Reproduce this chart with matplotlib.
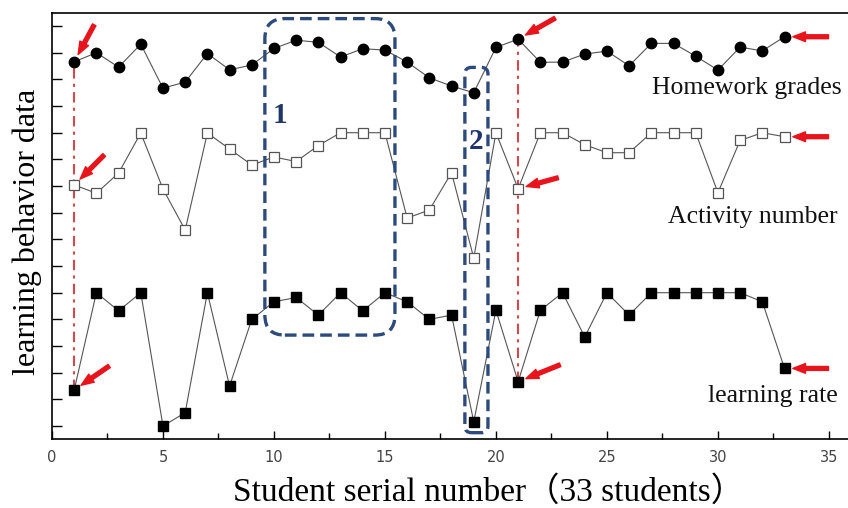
import numpy as np
import matplotlib.pyplot as plt
from matplotlib.patches import FancyBboxPatch

students = np.arange(1, 34)
homework = [13.66, 14.0, 13.46, 14.32, 12.67, 12.9, 13.97, 13.36, 13.54, 14.16,
            14.47, 14.39, 13.84, 14.15, 14.1, 13.65, 13.06, 12.75, 12.5, 14.2,
            14.51, 13.64, 13.65, 13.95, 14.06, 13.51, 14.35, 14.35, 13.87, 13.35,
            14.21, 14.07, 14.6]
activity = [9.04, 8.73, 9.49, 10.99, 8.89, 7.35, 10.99, 10.39, 9.79, 10.09,
            9.92, 10.52, 11.0, 11.0, 11.0, 7.8, 8.1, 9.5, 6.3, 11.0,
            8.9, 11.0, 11.0, 10.55, 10.25, 10.25, 11.0, 11.0, 11.0, 8.75,
            10.71, 11.0, 10.85]
rate = [1.35, 5.0, 4.32, 5.0, 0.0, 0.5, 5.0, 1.5, 4.0, 4.66,
        4.82, 4.16, 5.0, 4.32, 5.0, 4.66, 4.0, 4.16, 0.16, 4.34,
        1.66, 4.34, 5.0, 3.34, 5.0, 4.16, 5.0, 5.0, 5.0, 5.0,
        5.0, 4.66, 2.16]
series_names = ['Homework grades', 'Activity number', 'learning rate']
marked = [1, 21]          # students with dash-dot lines
box1 = (9.59, 3.41, 15.45, 15.28)   # x0, y0, x1, y1
box2 = (18.6, -0.25, 19.64, 13.45)

serif = ['Liberation Serif', 'Noto Sans CJK SC', 'DejaVu Serif']
red = '#e8141c'
navy = '#2c4a7c'

fig = plt.figure(figsize=(8.48, 5.08), dpi=100)
ax = fig.add_axes([52/848, 69/508, 796/848, 426/508])

ax.plot(students, homework, color='#555555', lw=0.8, marker='o', ms=7.5,
        mfc='black', mec='black', zorder=3)
ax.plot(students, activity, color='#555555', lw=0.8, marker='s', ms=6.5,
        mfc='white', mec='#555555', mew=0.9, zorder=3)
ax.plot(students, rate, color='#555555', lw=0.8, marker='s', ms=6.5,
        mfc='black', mec='black', zorder=3)

# red dash-dot guides
for s in marked:
    i = s - 1
    ax.vlines(s, rate[i], homework[i], colors='#d6474d', linestyles=(0, (5, 2.5, 1.5, 2.5)),
              lw=1.5, zorder=2)

# red arrows
def arrow(x, y, dx, dy, gap):
    ax.annotate('', xy=(x, y), xytext=(dx, dy), textcoords='offset pixels',
                arrowprops=dict(arrowstyle='simple,head_width=0.5,head_length=0.65,tail_width=0.2',
                                color=red, mutation_scale=14, shrinkA=0, shrinkB=gap),
                zorder=5)

arrow(1, homework[0], 20, 37, 6)
arrow(1, activity[0], 30, 30, 6)
arrow(1, rate[0], 35, 24, 6)
arrow(21, homework[20], 37, 21, 6)
arrow(21, activity[20], 40, 11, 6)
arrow(21, rate[20], 42, 17, 6)
for vals in (homework, activity, rate):
    arrow(33, vals[-1], 44, 0, 6)

# dashed boxes
for (x0, y0, x1, y1), r in ((box1, 0.9), (box2, 0.3)):
    p = FancyBboxPatch((x0, y0), x1 - x0, y1 - y0,
                       boxstyle='round,pad=0,rounding_size=%g' % r,
                       mutation_aspect=22.2/26.67, fill=False, ec=navy, lw=2.4,
                       ls=(0, (3.5, 1.8)), zorder=4)
    ax.add_patch(p)
ax.text(10.27, 11.66, '1', color='#1f3768', fontsize=21, fontweight='bold',
        family=serif, ha='center', va='center')
ax.text(19.1, 10.66, '2', color='#1f3768', fontsize=21, fontweight='bold',
        family=serif, ha='center', va='center')

# series labels
for (x, y), name in zip([(31.3, 12.67), (31.58, 7.84), (32.48, 1.12)], series_names):
    ax.text(x, y, name, fontsize=18.5, family=serif, ha='center', va='center', color='#111111')

ax.set_xlim(0, 35.86)
ax.set_ylim(-0.487, 15.49)
ax.set_xticks(np.arange(0, 36, 5))
ax.set_xticks(np.arange(2.5, 35, 5), minor=True)
ax.set_yticks(np.arange(0, 16))
ax.set_yticklabels([])
ax.tick_params(axis='x', direction='in', length=6, width=1, labelsize=10.5,
               labelcolor='#444444', pad=8)
ax.tick_params(axis='y', direction='in', length=7, width=1)
ax.tick_params(which='minor', direction='in', length=4, width=1)
ax.spines['right'].set_visible(False)
for sp in ('left', 'bottom', 'top'):
    ax.spines[sp].set_linewidth(1.2)

fig.text(489/848, 1 - 492/508, 'Student serial number（33 students）', fontsize=24,
         family=serif, ha='center', va='center')
fig.text(27/848, 1 - 232/508, 'learning behavior data', fontsize=23, family=serif,
         rotation=90, ha='center', va='center')

fig.savefig('out.png', dpi=100)
